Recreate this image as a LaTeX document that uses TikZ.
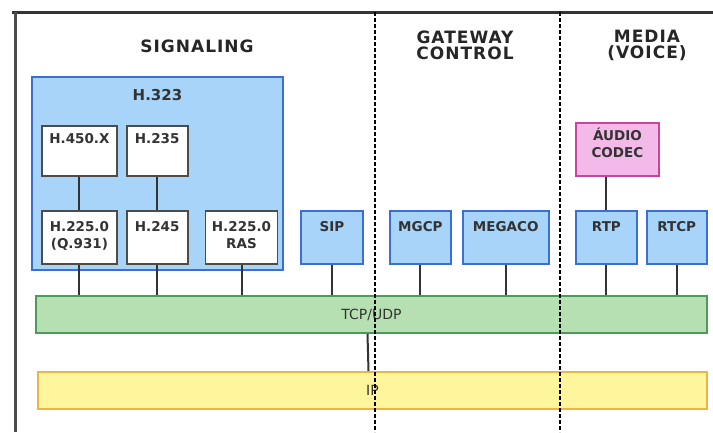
\documentclass[tikz,border=0pt]{standalone}
\usepackage{fontspec}
\setmainfont{DejaVu Sans}
\newfontfamily\headfont[LetterSpace=6]{DejaVu Sans}
\usetikzlibrary{positioning}

\definecolor{protofill}{HTML}{A8D4FA}
\definecolor{protoline}{HTML}{3B6FD6}
\definecolor{codecfill}{HTML}{F3B9E8}
\definecolor{codecline}{HTML}{C8449E}
\definecolor{tcpfill}{HTML}{B6E0B2}
\definecolor{tcpline}{HTML}{4E9A5C}
\definecolor{ipfill}{HTML}{FFF59C}
\definecolor{ipline}{HTML}{EDB545}

\begin{document}
\begin{tikzpicture}[
    x=1pt, y=-1pt,
    node distance=8pt,
    heading/.style={font=\headfont\bfseries\fontsize{17}{16}\selectfont, align=center, text=black!85, inner sep=0pt},
    boxtext/.style={font=\bfseries\fontsize{13.5}{17}\selectfont, align=center, text=black!80, inner sep=0pt},
    tag/.style={label={[boxtext, anchor=north, yshift=-11pt]north:{#1}}},
    toptag/.style={label={[boxtext, anchor=north, yshift=-8pt]north:{#1}}},
    group/.style={rectangle, draw=protoline, fill=protofill, line width=1.8pt, inner sep=0pt},
    itu/.style={rectangle, draw=black!70, fill=white, line width=1.8pt, inner sep=0pt, anchor=north west},
    proto/.style={rectangle, draw=protoline, fill=protofill, line width=1.8pt, inner sep=0pt, minimum height=53pt, anchor=north west},
    codec/.style={rectangle, draw=codecline, fill=codecfill, line width=1.8pt, inner sep=0pt, anchor=north west},
    layer/.style={rectangle, draw=#1line, fill=#1fill, line width=1.8pt, minimum height=37pt, font=\fontsize{14}{17}\selectfont, text=black!80},
    link/.style={draw=black!80, line width=2pt},
    divider/.style={line width=1.6pt, dash pattern=on 4pt off 2pt}
]
    \useasboundingbox[fill=white] (0,0) rectangle (713,432);

    % column headings
    \node[heading] (signaling) at (197,46) {SIGNALING};
    \node[heading] (gateway) at (465,45.5) {GATEWAY\\CONTROL};
    \node[heading] (media) at (647,45.5) {MEDIA\\(VOICE)};

    % H.323 family
    \node[group, minimum width=251pt, minimum height=193pt,
          label={[boxtext, font=\bfseries\fontsize{15}{18}\selectfont, anchor=north, yshift=-13pt]north:H.323}] (h323) at (157.5,173.5) {};
    \node[itu, minimum width=75pt, minimum height=50pt, toptag={H.450.X}] (h450) at (41,125) {};
    \node[itu, minimum width=61pt, minimum height=50pt, toptag={H.235}, anchor=west, right=of h450] (h235) {};
    \node[itu, minimum width=75pt, minimum height=53pt, tag={H.225.0\\(Q.931)}] (q931) at (41,210) {};
    \node[itu, minimum width=61pt, minimum height=53pt, tag={H.245}, anchor=west, right=of q931] (h245) {};
    \node[itu, minimum width=72pt, minimum height=53pt, tag={H.225.0\\RAS}, anchor=west, right=16pt of h245] (ras) {};

    % other protocols
    \node[proto, minimum width=62pt, tag={SIP}] (sip) at (300,210) {};
    \node[proto, minimum width=61pt, tag={MGCP}] (mgcp) at (389,210) {};
    \node[proto, minimum width=86pt, tag={MEGACO}, anchor=west, right=10pt of mgcp] (megaco) {};
    \node[proto, minimum width=61pt, tag={RTP}] (rtp) at (575,210) {};
    \node[proto, minimum width=60pt, tag={RTCP}, anchor=west, right=of rtp] (rtcp) {};
    \node[codec, minimum width=83pt, minimum height=53pt, label={[boxtext, anchor=north, yshift=-6pt]north:{ÁUDIO\\CODEC}}] (audio) at (575,122) {};

    % transport and network layers
    \node[layer=tcp, minimum width=671pt] (tcp) at (371.5,314.5) {TCP/UDP};
    \node[layer=ip, minimum width=669pt] (ip) at (372.5,390.5) {IP};

    % links
    \draw[link] (h450) -- (q931);
    \draw[link] (h235) -- (h245);
    \draw[link] (rtp.north |- audio.south) -- (rtp.north);
    \foreach \p in {q931,h245,ras,sip,mgcp,megaco,rtp,rtcp}
        \draw[link] (\p.south) -- (\p.south |- tcp.north);
    \draw[link] ([xshift=-4pt]tcp.south) -- ([xshift=-4pt]ip.north);

    % frame and column dividers
    \draw[line width=3pt, black!80] (12,12) -- (713,12);
    \draw[line width=3pt, black!70] (15,12) -- (15,432);
    \draw[divider] (375,12) -- (375,432);
    \draw[divider] (560,12) -- (560,432);
\end{tikzpicture}
\end{document}
